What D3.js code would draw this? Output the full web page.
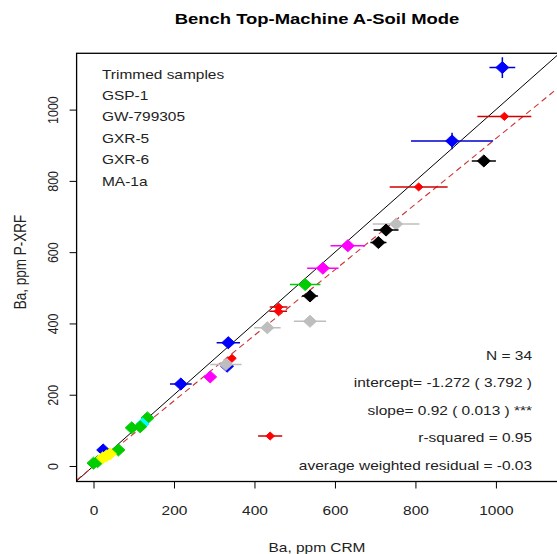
<!DOCTYPE html>
<html>
<head>
<meta charset="utf-8">
<script src="https://cdn.jsdelivr.net/npm/d3@7"></script>
<style>
  html, body { margin: 0; padding: 0; background: #fff; }
  svg { display: block; font-family: "Liberation Sans", Arial, sans-serif; }
</style>
</head>
<body>
<div id="chart"></div>
<script>
// Ba reference values (CRM) against bench-top P-XRF readings, with 1-sigma errors
const sampleGroup = ["blue","red","blue","black","red","gray","black","black","magenta","magenta",
                     "green","black","red","red","gray","gray","blue","red","blue","gray",
                     "magenta","blue","blue","green","cyan","green","green","green","green","green",
                     "yellow","yellow","yellow","red"];
const crmValues  = [1016, 1021, 891, 970, 808, 752, 727, 708, 632, 570,
                    526, 538, 460, 459, 538, 432, 335, 344, 332, 329,
                    290, 217, 24, 134, 122, 116, 95, 62, 10, 0,
                    32, 41, 23, 439];
const crmErr     = [32, 67, 102, 30, 72, 58, 31, 20, 43, 39,
                    38, 20, 22, 22, 40, 33, 29, 8, 8, 39,
                    10, 27, 6, 8, 6, 8, 8, 6, 5, 5,
                    5, 5, 5, 30];
const xrfValues  = [1118, 981, 912, 856, 783, 679, 662, 627, 618, 555,
                    509, 477, 446, 434, 406, 388, 346, 302, 280, 285,
                    250, 230, 45, 135, 118, 110, 107, 45, 12, 8,
                    28, 34, 23, 84];
const xrfErr     = [29, 6, 23, 6, 6, 6, 6, 6, 8, 15,
                    8, 6, 8, 8, 6, 6, 16, 6, 10, 6,
                    12, 17, 15, 6, 4, 6, 6, 6, 5, 5,
                    5, 5, 5, 6];

const legendLines = ["Trimmed samples", "GSP-1", "GW-799305", "GXR-5", "GXR-6", "MA-1a"];
const statLines = ["N = 34", "intercept= -1.272 ( 3.792 )", "slope= 0.92 ( 0.013 ) ***",
                   "r-squared = 0.95", "average weighted residual = -0.03"];
const fitIntercept = -1.272;
const fitSlope = 0.92;
const tickValues = [0, 200, 400, 600, 800, 1000];

const W = 557, H = 554;
const box = { left: 76.6, right: 559.5, top: 53.3, bottom: 481.5 };
const stretch = 1.19;   // horizontal widening of the lettering
const textColor = "#222";

const x = d3.scaleLinear().domain([-42, 1158]).range([box.left, box.right]);
const y = d3.scaleLinear().domain([-43.5, 1158]).range([box.bottom, box.top]);

const groups = ["blue","red","black","gray","magenta","green","yellow","cyan"];
const fillColor = d3.scaleOrdinal().domain(groups)
  .range(["#0000ff","#ff0000","#000000","#bebebe","#ff00ff","#00cd00","#ffff00","#00ffff"]);
const barColor = d3.scaleOrdinal().domain(groups)
  .range(["#0000cd","#cd0000","#000000","#bebebe","#ff00ff","#00cd00","#ffff00","#00ffff"]);
const markerHalf = g => (g === "red" ? 4 : 6);

const svg = d3.select("#chart").append("svg").attr("width", W).attr("height", H);

svg.append("defs").append("clipPath").attr("id", "plotclip")
  .append("rect").attr("x", box.left).attr("y", box.top)
  .attr("width", box.right - box.left).attr("height", box.bottom - box.top);

function label(parent, px, py, str, size, anchor, extra) {
  const t = parent.append("text")
    .attr("transform", `translate(${px},${py}) ${extra || ""} scale(${stretch},1)`)
    .attr("text-anchor", anchor).attr("font-size", size).attr("fill", textColor).text(str);
  return t;
}

// Title
label(svg, 317, 23.5, "Bench Top-Machine A-Soil Mode", 15.5, "middle")
  .attr("font-weight", "bold").attr("fill", "#000");

// Axes
const fmt = d3.format("d");
const xAxis = d3.axisBottom(x).tickValues(tickValues).tickFormat(fmt).tickSize(7).tickPadding(17);
const gx = svg.append("g").attr("transform", `translate(0,${box.bottom})`).call(xAxis);
gx.select(".domain").remove();
gx.selectAll("line").attr("stroke", "#000");
gx.selectAll("text").attr("font-size", 13).attr("fill", textColor)
  .attr("font-family", "Liberation Sans, Arial, sans-serif")
  .attr("transform", `scale(${stretch},1)`);

const yAxis = d3.axisLeft(y).tickValues(tickValues).tickFormat(fmt).tickSize(7);
const gy = svg.append("g").attr("transform", `translate(${box.left},0)`).call(yAxis);
gy.select(".domain").remove();
gy.selectAll("line").attr("stroke", "#000");
gy.selectAll("text")
  .attr("font-size", 12.5).attr("fill", textColor).attr("font-family", "Liberation Sans, Arial, sans-serif")
  .attr("x", null).attr("dy", null).attr("y", 0)
  .attr("text-anchor", "middle")
  .attr("transform", `translate(-19,0) rotate(-90) scale(1,${stretch})`);

// Axis titles
label(svg, 317, 551.5, "Ba, ppm CRM", 13, "middle");
svg.append("text").attr("transform", `translate(26,262) rotate(-90) scale(1,${stretch})`)
  .attr("text-anchor", "middle").attr("font-size", 13.5).attr("fill", textColor).text("Ba, ppm P-XRF");

const plot = svg.append("g").attr("clip-path", "url(#plotclip)");

// 1:1 reference line
plot.append("line")
  .attr("x1", x(-100)).attr("y1", y(-100)).attr("x2", x(1300)).attr("y2", y(1300))
  .attr("stroke", "#000").attr("stroke-width", 1);

// Fitted regression line
plot.append("line")
  .attr("x1", x(-100)).attr("y1", y(fitIntercept + fitSlope * -100))
  .attr("x2", x(1300)).attr("y2", y(fitIntercept + fitSlope * 1300))
  .attr("stroke", "#cd3333").attr("stroke-width", 1.1).attr("stroke-dasharray", "6,4");

const idx = d3.range(crmValues.length);

// Error bars and diamond markers, drawn sample by sample
const pts = plot.append("g").selectAll("g").data(idx).join("g");
pts.append("line")
  .attr("x1", i => x(crmValues[i] - crmErr[i])).attr("x2", i => x(crmValues[i] + crmErr[i]))
  .attr("y1", i => y(xrfValues[i])).attr("y2", i => y(xrfValues[i]))
  .attr("stroke", i => barColor(sampleGroup[i])).attr("stroke-width", 1.5);
pts.append("line")
  .attr("x1", i => x(crmValues[i])).attr("x2", i => x(crmValues[i]))
  .attr("y1", i => y(xrfValues[i] - xrfErr[i])).attr("y2", i => y(xrfValues[i] + xrfErr[i]))
  .attr("stroke", i => barColor(sampleGroup[i])).attr("stroke-width", 1.5);
pts.append("path")
  .attr("transform", i => `translate(${x(crmValues[i])},${y(xrfValues[i])})`)
  .attr("d", i => {
    const r = markerHalf(sampleGroup[i]), rx = r * 1.08;
    return `M0,${-r}L${rx},0L0,${r}L${-rx},0Z`;
  })
  .attr("fill", i => fillColor(sampleGroup[i]))
  .attr("stroke", i => fillColor(sampleGroup[i])).attr("stroke-width", 1).attr("stroke-linejoin", "round");

// Plot frame
svg.append("rect").attr("x", box.left).attr("y", box.top)
  .attr("width", box.right - box.left).attr("height", box.bottom - box.top)
  .attr("fill", "none").attr("stroke", "#000").attr("stroke-width", 1.3);

// Legend text
const leg = svg.append("g");
legendLines.forEach((d, i) => label(leg, 102, 78.5 + i * 21.4, d, 13, "start"));

// Fit statistics
const stats = svg.append("g");
statLines.forEach((d, i) => label(stats, 532, 359.5 + i * 27.5, d, 13, "end"));
</script>
</body>
</html>
